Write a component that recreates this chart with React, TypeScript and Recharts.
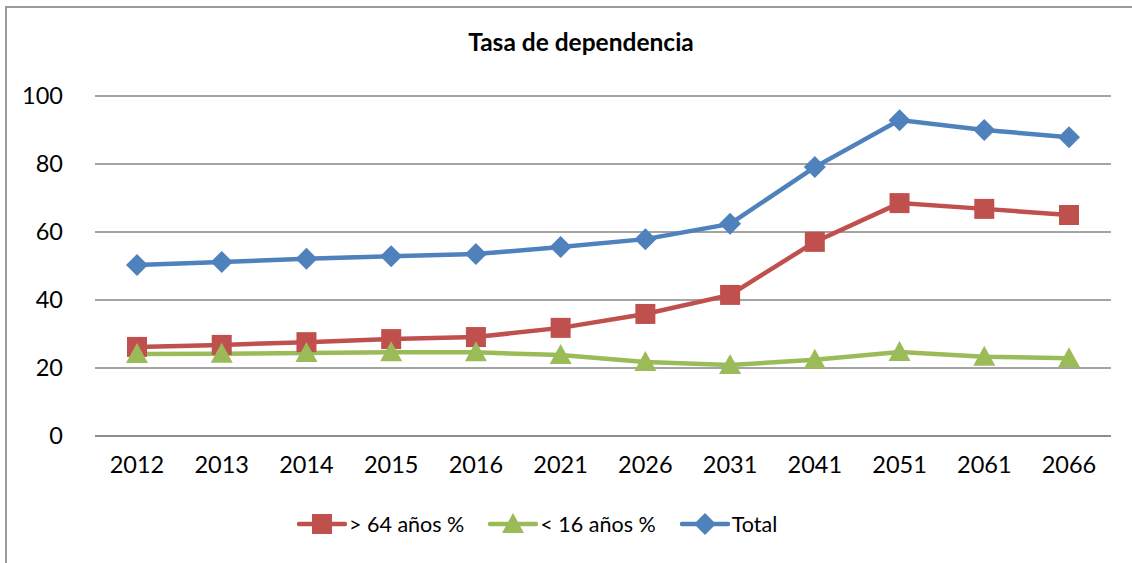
import React from "react";
import { CartesianGrid, Line, LineChart, XAxis, YAxis } from "recharts";

const years = ["2012", "2013", "2014", "2015", "2016", "2021", "2026", "2031", "2041", "2051", "2061", "2066"];
const mayores = [26.2, 26.8, 27.6, 28.5, 29.1, 31.8, 35.9, 41.5, 57.1, 68.5, 66.8, 65.0];
const menores = [24.1, 24.2, 24.4, 24.6, 24.6, 23.8, 21.8, 20.9, 22.4, 24.7, 23.3, 22.9];
const total = [50.3, 51.2, 52.1, 52.9, 53.5, 55.6, 57.9, 62.4, 79.1, 92.9, 90.0, 87.9];
const yTicks = [0, 20, 40, 60, 80, 100];

const data = years.map((y, i) => ({
  year: y,
  mayores: mayores[i],
  menores: menores[i],
  total: total[i]
}));

const RED = "#C0504D";
const GREEN = "#9BBB59";
const BLUE = "#4F81BD";
const GRID = "#868686";
const FONT = "Lato, 'Liberation Sans', sans-serif";

function Marker({ kind, cx, cy, color }: { kind: string; cx: number; cy: number; color: string }) {
  if (kind === "square") {
    return <rect x={cx - 10} y={cy - 10} width={20} height={20} fill={color} />;
  }
  if (kind === "triangle") {
    return <polygon points={`${cx},${cy - 11} ${cx + 11},${cy + 9} ${cx - 11},${cy + 9}`} fill={color} />;
  }
  return <polygon points={`${cx},${cy - 11} ${cx + 11},${cy} ${cx},${cy + 11} ${cx - 11},${cy}`} fill={color} />;
}

const dotFor = (kind: string, color: string) => (props: any) =>
  <Marker key={props.index} kind={kind} cx={props.cx} cy={props.cy} color={color} />;

const legendItems = [
  { label: "> 64 años %", kind: "square", color: RED },
  { label: "< 16 años %", kind: "triangle", color: GREEN },
  { label: "Total", kind: "diamond", color: BLUE }
];

function LegendBox() {
  return (
    <div style={{ display: "flex", fontFamily: FONT, fontSize: 21.5, color: "#000" }}>
      {legendItems.map((it) => (
        <div key={it.label} style={{ display: "flex", alignItems: "center", marginRight: 24 }}>
          <svg width={50} height={26}>
            <line x1={2} y1={13} x2={48} y2={13} stroke={it.color} strokeWidth={4.5} strokeLinecap="round" />
            <Marker kind={it.kind} cx={25} cy={13} color={it.color} />
          </svg>
          <span style={{ marginLeft: 2 }}>{it.label}</span>
        </div>
      ))}
    </div>
  );
}

export default function App() {
  return (
    <div style={{ position: "fixed", left: 0, top: 0, width: 1132, height: 563, background: "#fff", overflow: "hidden" }}>
      <div
        style={{
          position: "absolute",
          left: 5,
          top: 6,
          width: 1140,
          height: 570,
          border: "2px solid #9a9a9a",
          boxSizing: "border-box"
        }}
      />
      <div
        style={{
          position: "absolute",
          left: 0,
          width: 1162,
          top: 27,
          textAlign: "center",
          fontFamily: FONT,
          fontWeight: "bold",
          fontSize: 24.5
        }}
      >
        Tasa de dependencia
      </div>
      <div style={{ position: "absolute", left: 0, top: 0 }}>
        <LineChart width={1132} height={563} data={data} margin={{ top: 96, right: 21, bottom: 0, left: 0 }}>
          <CartesianGrid vertical={false} stroke={GRID} strokeWidth={1.5} />
          <XAxis
            dataKey="year"
            axisLine={{ stroke: GRID, strokeWidth: 1.5 }}
            tickLine={false}
            tickSize={0}
            tickMargin={20}
            height={127}
            padding={{ left: 42, right: 42 }}
            interval={0}
            tick={{ fill: "#000", fontSize: 23.5, fontFamily: FONT }}
          />
          <YAxis
            domain={[0, 100]}
            ticks={yTicks}
            axisLine={false}
            tickLine={false}
            tickSize={0}
            tickMargin={32}
            width={95}
            tick={{ fill: "#000", fontSize: 23.5, fontFamily: FONT }}
          />
          <Line
            dataKey="mayores"
            stroke={RED}
            strokeWidth={4.5}
            dot={dotFor("square", RED)}
            isAnimationActive={false}
          />
          <Line
            dataKey="menores"
            stroke={GREEN}
            strokeWidth={4.5}
            dot={dotFor("triangle", GREEN)}
            isAnimationActive={false}
          />
          <Line
            dataKey="total"
            stroke={BLUE}
            strokeWidth={4.5}
            dot={dotFor("diamond", BLUE)}
            isAnimationActive={false}
          />
        </LineChart>
      </div>
      <div style={{ position: "absolute", left: 297, top: 511 }}>
        <LegendBox />
      </div>
    </div>
  );
}
